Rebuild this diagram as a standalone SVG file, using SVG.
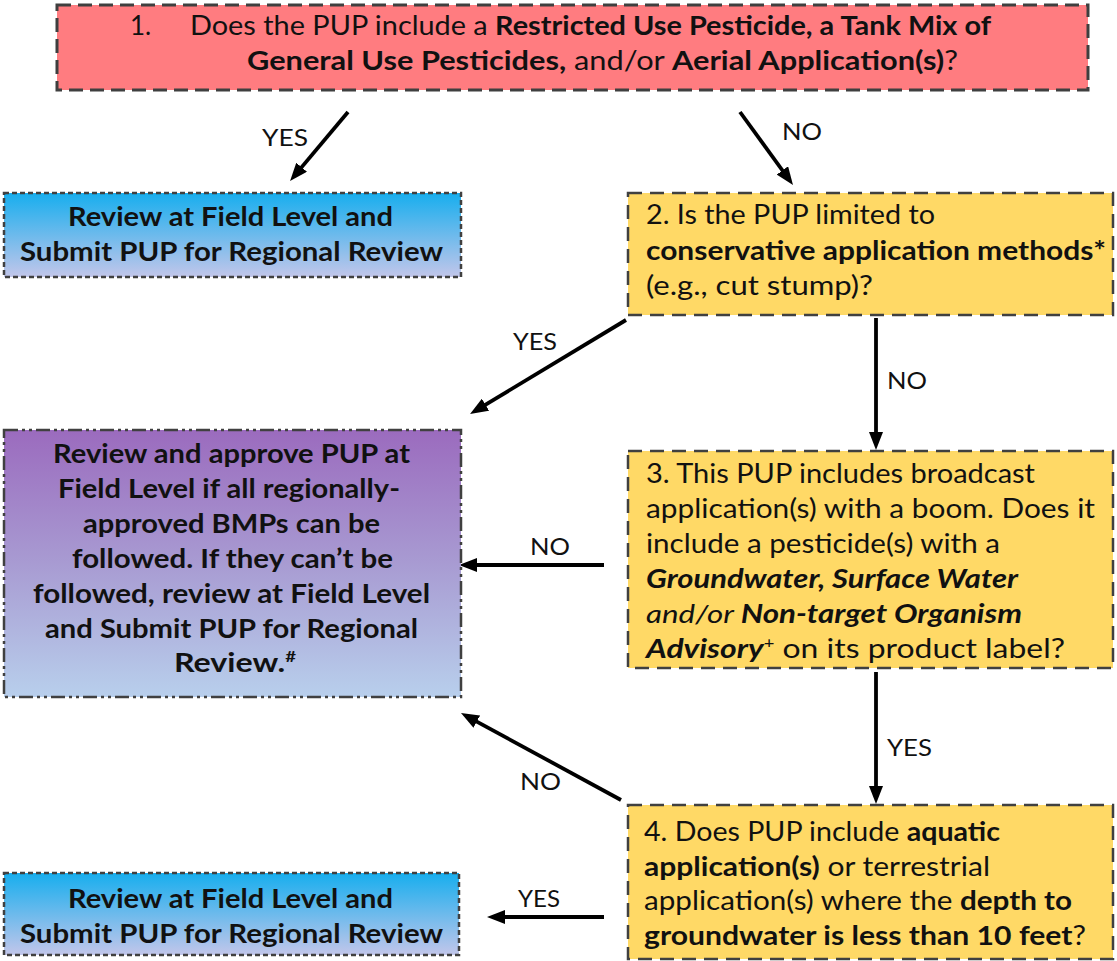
<svg xmlns="http://www.w3.org/2000/svg" width="1117" height="961" viewBox="0 0 1117 961">
<defs>
<linearGradient id="gBlue" x1="0" y1="0" x2="0" y2="1">
<stop offset="0" stop-color="#17AEEE"/>
<stop offset="1" stop-color="#C2C6EA"/>
</linearGradient>
<linearGradient id="gPurple" x1="0" y1="0" x2="0" y2="1">
<stop offset="0" stop-color="#9B6BBE"/>
<stop offset="0.5" stop-color="#A89BD2"/>
<stop offset="1" stop-color="#B8CFEC"/>
</linearGradient>
<marker id="ah" markerUnits="userSpaceOnUse" markerWidth="18" markerHeight="14" refX="10" refY="7" orient="auto">
<path d="M0,0 L18,7 L0,14 z" fill="#000"/>
</marker>
</defs>
<style>
text{font-family:Lato,"Open Sans","Liberation Sans",sans-serif;fill:#111;}
.t{font-size:26px;}
.lbl{font-size:23px;}
.b{font-weight:bold;}
.i{font-style:italic;}
.bi{font-weight:bold;font-style:italic;}
.sup{font-size:15px;}
.red{fill:#FF7C80;stroke:#3F3F3F;stroke-width:3;stroke-dasharray:14 7;}
.yel{fill:#FFD966;stroke:#404040;stroke-width:2.5;stroke-dasharray:14 8;}
.blu{fill:url(#gBlue);stroke:#404040;stroke-width:2.5;stroke-dasharray:5 3;}
.pur{fill:url(#gPurple);stroke:#404040;stroke-width:2.5;stroke-dasharray:14 4 3 4 3 4;}
.arr{stroke:#000;stroke-width:3.8;fill:none;marker-end:url(#ah);}
</style>
<rect width="1117" height="961" fill="#fff"/>

<g id="connectors">
<line class="arr" x1="348" y1="112" x2="295.2" y2="174.9"/>
<line class="arr" x1="740" y1="112" x2="788.3" y2="178.5"/>
<line class="arr" x1="626" y1="320" x2="476.9" y2="409.9"/>
<line class="arr" x1="876" y1="318" x2="876" y2="442"/>
<line class="arr" x1="604" y1="565" x2="467" y2="565"/>
<line class="arr" x1="876" y1="672" x2="876" y2="796"/>
<line class="arr" x1="621" y1="800" x2="468" y2="716.8"/>
<line class="arr" x1="604" y1="917" x2="495" y2="917"/>
<text class="lbl" x="262" y="146" textLength="46" lengthAdjust="spacingAndGlyphs">YES</text>
<text class="lbl" x="782" y="140" textLength="40" lengthAdjust="spacingAndGlyphs">NO</text>
<text class="lbl" x="513" y="350" textLength="44" lengthAdjust="spacingAndGlyphs">YES</text>
<text class="lbl" x="887" y="389" textLength="40" lengthAdjust="spacingAndGlyphs">NO</text>
<text class="lbl" x="530" y="555" textLength="40" lengthAdjust="spacingAndGlyphs">NO</text>
<text class="lbl" x="887" y="756" textLength="45" lengthAdjust="spacingAndGlyphs">YES</text>
<text class="lbl" x="520" y="790" textLength="41" lengthAdjust="spacingAndGlyphs">NO</text>
<text class="lbl" x="518" y="907" textLength="42" lengthAdjust="spacingAndGlyphs">YES</text>
</g>

<g id="node1">
<rect class="red" x="57" y="5" width="1031" height="85"/>
<text class="t" x="130" y="35">1.</text>
<text class="t" x="190" y="35" textLength="801" lengthAdjust="spacingAndGlyphs">Does the PUP include a <tspan class="b">Restricted Use Pesticide, a Tank Mix of</tspan></text>
<text class="t" x="247" y="70" textLength="711" lengthAdjust="spacingAndGlyphs"><tspan class="b">General Use Pesticides,</tspan> and/or <tspan class="b">Aerial Application(s)</tspan>?</text>
</g>

<g id="node2">
<rect class="blu" x="4" y="193" width="457" height="84"/>
<text class="t b" x="68" y="226" textLength="325" lengthAdjust="spacingAndGlyphs">Review at Field Level and</text>
<text class="t b" x="20" y="261" textLength="423" lengthAdjust="spacingAndGlyphs">Submit PUP for Regional Review</text>
</g>

<g id="node3">
<rect class="yel" x="628" y="193" width="485" height="122"/>
<text class="t" x="646" y="224" textLength="289" lengthAdjust="spacingAndGlyphs">2. Is the PUP limited to</text>
<text class="t b" x="646" y="260" textLength="460" lengthAdjust="spacingAndGlyphs">conservative application methods*</text>
<text class="t" x="646" y="295" textLength="227" lengthAdjust="spacingAndGlyphs">(e.g., cut stump)?</text>
</g>

<g id="node4">
<rect class="pur" x="4" y="430" width="457" height="267"/>
<text class="t b" x="53" y="463" textLength="357" lengthAdjust="spacingAndGlyphs">Review and approve PUP at</text>
<text class="t b" x="58" y="498" textLength="342" lengthAdjust="spacingAndGlyphs">Field Level if all regionally-</text>
<text class="t b" x="83" y="533" textLength="297" lengthAdjust="spacingAndGlyphs">approved BMPs can be</text>
<text class="t b" x="72" y="568" textLength="321" lengthAdjust="spacingAndGlyphs">followed. If they can’t be</text>
<text class="t b" x="33" y="603" textLength="397" lengthAdjust="spacingAndGlyphs">followed, review at Field Level</text>
<text class="t b" x="45" y="638" textLength="373" lengthAdjust="spacingAndGlyphs">and Submit PUP for Regional</text>
<text class="t b" x="174" y="672" textLength="122" lengthAdjust="spacingAndGlyphs">Review.<tspan class="sup" dy="-10">#</tspan></text>
</g>

<g id="node5">
<rect class="yel" x="628" y="451" width="485" height="217"/>
<text class="t" x="646" y="483" textLength="389" lengthAdjust="spacingAndGlyphs">3. This PUP includes broadcast</text>
<text class="t" x="646" y="518" textLength="449" lengthAdjust="spacingAndGlyphs">application(s) with a boom.  Does it</text>
<text class="t" x="646" y="553" textLength="354" lengthAdjust="spacingAndGlyphs">include a pesticide(s) with a</text>
<text class="t bi" x="646" y="588" textLength="372" lengthAdjust="spacingAndGlyphs">Groundwater, Surface Water</text>
<text class="t" x="646" y="623" textLength="376" lengthAdjust="spacingAndGlyphs"><tspan class="i">and/or </tspan><tspan class="bi">Non-target Organism</tspan></text>
<text class="t" x="646" y="658" textLength="419" lengthAdjust="spacingAndGlyphs"><tspan class="bi">Advisory</tspan><tspan class="sup" dy="-10">+</tspan><tspan dy="10"> on its product label?</tspan></text>
</g>

<g id="node6">
<rect class="yel" x="628" y="805" width="485" height="154"/>
<text class="t" x="644" y="841" textLength="356" lengthAdjust="spacingAndGlyphs">4. Does PUP include <tspan class="b">aquatic</tspan></text>
<text class="t" x="644" y="876" textLength="346" lengthAdjust="spacingAndGlyphs"><tspan class="b">application(s)</tspan> or terrestrial</text>
<text class="t" x="644" y="910" textLength="428" lengthAdjust="spacingAndGlyphs">application(s) where the <tspan class="b">depth to</tspan></text>
<text class="t" x="644" y="945" textLength="442" lengthAdjust="spacingAndGlyphs"><tspan class="b">groundwater is less than 10 feet</tspan>?</text>
</g>

<g id="node7">
<rect class="blu" x="4" y="873" width="455" height="82"/>
<text class="t b" x="68" y="908" textLength="325" lengthAdjust="spacingAndGlyphs">Review at Field Level and</text>
<text class="t b" x="20" y="943" textLength="423" lengthAdjust="spacingAndGlyphs">Submit PUP for Regional Review</text>
</g>
</svg>
